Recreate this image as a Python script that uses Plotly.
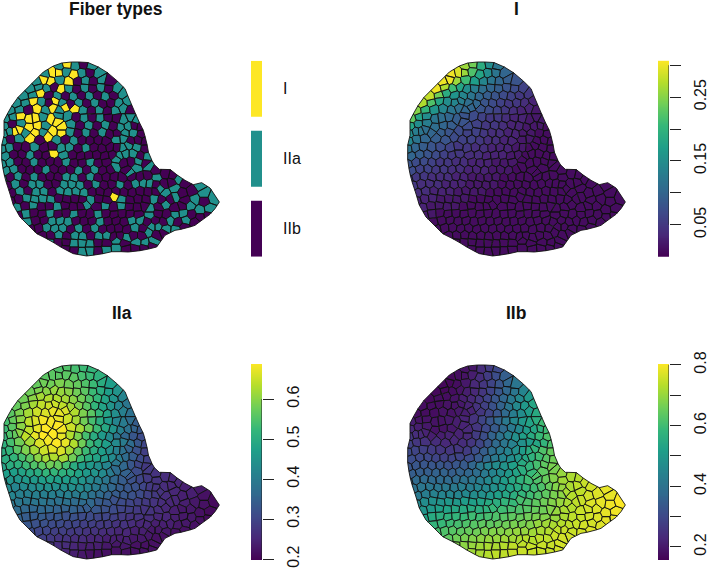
"""
Fiber type map and deconvolution shares on a muscle section (Voronoi cells).
"""

import numpy as np
import plotly.graph_objects as go
from plotly.colors import sample_colorscale

# Tissue outline and cell seeds, in a 3x pixel grid of one panel
outline_x = [185, 215, 260, 290, 320, 350, 375, 385, 400, 415, 430, 440, 445, 460, 478, 510, 530, 555, 580, 605,
             630, 645, 658, 645, 630, 605, 585, 555, 525, 495, 470, 430, 385, 340, 300, 260, 220, 190, 150, 110,
             85, 60, 40, 30, 15, 5, 5, 12, 12, 30, 50, 70, 100, 130, 160]
outline_y = [33, 30, 30, 42, 60, 85, 110, 135, 170, 205, 235, 270, 300, 335, 352, 352, 368, 385, 398, 392,
             408, 430, 450, 470, 487, 505, 520, 530, 535, 550, 585, 595, 600, 598, 607, 612, 605, 590, 565, 545,
             520, 495, 460, 425, 380, 330, 280, 250, 205, 170, 140, 120, 90, 60, 42]

row_x = [
    [178, 200, 226, 250, 274],
    [136, 158, 175, 198, 222, 246, 270, 294],
    [112, 132, 152, 178, 208, 232, 256, 280, 304, 328],
    [92, 116, 140, 162, 182, 206, 230, 254, 278, 302, 326, 350],
    [72, 98, 122, 146, 172, 196, 220, 244, 268, 292, 316, 340, 368],
    [50, 76, 100, 124, 148, 165, 188, 212, 236, 260, 284, 308, 332, 356, 382],
    [32, 58, 84, 112, 136, 158, 178, 195, 225, 250, 274, 298, 322, 346, 368, 392],
    [18, 38, 60, 90, 105, 130, 153, 176, 204, 228, 252, 276, 300, 324, 350, 370, 392, 410],
    [14, 36, 62, 88, 112, 136, 172, 185, 214, 240, 266, 292, 316, 340, 362, 384, 404, 420],
    [10, 30, 45, 57, 78, 105, 130, 158, 185, 210, 234, 258, 282, 306, 330, 350, 375, 400, 424],
    [8, 32, 55, 92, 118, 145, 170, 196, 222, 246, 270, 294, 318, 350, 370, 392, 415, 435],
    [6, 28, 52, 76, 104, 132, 158, 184, 208, 234, 258, 282, 306, 330, 350, 368, 387, 410, 436],
    [16, 42, 66, 90, 114, 138, 158, 192, 218, 242, 266, 290, 314, 338, 358, 375, 400, 422, 440],
    [6, 30, 54, 78, 102, 126, 150, 174, 198, 222, 246, 270, 294, 318, 350, 372, 393, 415, 438],
    [18, 42, 66, 90, 114, 138, 162, 188, 212, 236, 260, 284, 308, 332, 346, 380, 390, 410, 445, 468],
    [8, 30, 54, 78, 102, 126, 150, 174, 198, 222, 246, 270, 294, 318, 342, 366, 396, 420, 442, 470, 495, 520],
    [22, 46, 72, 96, 120, 144, 168, 192, 216, 240, 264, 288, 312, 336, 360, 384, 406, 430, 448, 468, 492, 515, 535, 555],
    [34, 60, 84, 108, 132, 156, 180, 204, 228, 252, 276, 300, 324, 348, 372, 396, 420, 444, 466, 480, 497, 523, 547, 575, 598, 612],
    [32, 56, 80, 104, 128, 152, 176, 200, 224, 248, 272, 296, 320, 342, 366, 390, 414, 438, 462, 486, 510, 525, 555, 585, 612, 640],
    [50, 76, 100, 124, 148, 172, 196, 220, 244, 256, 292, 316, 340, 364, 388, 412, 434, 450, 476, 495, 525, 548, 570, 600, 628],
    [54, 78, 102, 126, 150, 174, 198, 222, 246, 270, 294, 318, 342, 366, 390, 414, 450, 474, 500, 525, 550, 575, 600, 625],
    [82, 108, 132, 156, 180, 204, 228, 252, 276, 300, 324, 348, 372, 395, 420, 442, 466, 490, 510, 534, 557, 585],
    [92, 116, 140, 164, 188, 212, 236, 260, 284, 308, 332, 356, 380, 404, 430, 455, 475, 495, 530, 552],
    [128, 152, 176, 200, 224, 248, 272, 296, 320, 342, 358, 380, 400, 425, 445, 470, 490],
    [150, 174, 198, 222, 246, 270, 294, 318, 350, 374, 410, 435, 460],
    [196, 222, 246, 270, 294, 318, 350, 378, 406, 432, 456],
]
row_y = [
    [44, 37, 40, 36, 42],
    [66, 61, 61, 58, 69, 64, 62, 66],
    [90, 82, 89, 84, 89, 88, 86, 88, 84, 90],
    [112, 106, 110, 104, 112, 110, 112, 108, 110, 106, 110, 112],
    [134, 130, 122, 130, 132, 132, 134, 130, 132, 130, 134, 130, 126],
    [154, 152, 146, 150, 152, 146, 152, 156, 152, 154, 152, 156, 152, 154, 146],
    [178, 174, 172, 169, 174, 166, 176, 164, 169, 174, 176, 174, 178, 176, 167, 176],
    [200, 194, 192, 201, 199, 194, 202, 190, 192, 196, 198, 196, 198, 196, 198, 204, 194, 204],
    [222, 216, 214, 227, 222, 222, 209, 226, 216, 220, 220, 222, 218, 224, 227, 224, 222, 224],
    [244, 238, 237, 232, 242, 241, 240, 239, 242, 240, 244, 242, 244, 240, 246, 244, 242, 242, 246],
    [268, 262, 260, 256, 264, 252, 264, 262, 266, 264, 266, 264, 268, 261, 259, 268, 264, 268],
    [290, 286, 284, 288, 286, 288, 284, 288, 286, 290, 288, 286, 290, 286, 288, 289, 279, 286, 290],
    [314, 308, 306, 310, 308, 310, 304, 310, 308, 312, 310, 308, 312, 308, 310, 304, 304, 312, 314],
    [336, 330, 328, 332, 330, 332, 328, 332, 330, 334, 332, 330, 334, 330, 321, 334, 330, 329, 334],
    [358, 352, 350, 354, 352, 354, 350, 354, 352, 356, 354, 352, 356, 352, 344, 354, 364, 346, 342, 356],
    [380, 374, 372, 376, 374, 376, 372, 376, 374, 378, 376, 374, 378, 374, 376, 378, 374, 376, 372, 376, 364, 370],
    [402, 396, 394, 398, 396, 398, 394, 398, 396, 400, 398, 396, 400, 396, 398, 400, 394, 392, 394, 398, 396, 392, 381, 392],
    [424, 418, 416, 420, 418, 420, 416, 420, 418, 422, 420, 418, 422, 418, 420, 422, 418, 420, 418, 409, 424, 409, 424, 416, 400, 426],
    [446, 440, 438, 442, 440, 442, 438, 442, 440, 444, 442, 440, 444, 431, 442, 444, 440, 442, 440, 444, 440, 434, 446, 442, 446, 437],
    [468, 462, 460, 464, 462, 464, 460, 464, 462, 457, 464, 462, 466, 462, 464, 466, 462, 471, 466, 456, 470, 462, 461, 476, 472],
    [490, 484, 482, 486, 484, 486, 482, 486, 484, 488, 486, 484, 488, 484, 486, 488, 489, 484, 488, 487, 484, 488, 494, 490],
    [512, 506, 504, 508, 506, 510, 506, 508, 506, 510, 508, 506, 510, 504, 504, 510, 506, 510, 504, 510, 504, 510],
    [532, 528, 526, 530, 528, 532, 528, 530, 528, 532, 530, 528, 532, 528, 530, 524, 524, 531, 534, 526],
    [552, 550, 548, 552, 550, 554, 550, 552, 550, 554, 552, 557, 550, 550, 539, 548, 540],
    [572, 572, 570, 574, 572, 576, 572, 574, 564, 574, 572, 574, 569],
    [592, 596, 600, 594, 596, 592, 589, 590, 588, 586, 580],
]

# I = type I, a = IIa, b = IIb
row_type = [
    "aIaba",
    "aIIaIaba",
    "aIIaIbabab",
    "aaabIabababa",
    "aaIbababababa",
    "aaIabIabababbaa",
    "aabIaIaIIababaab",
    "aaIIIaIaabababbaaa",
    "abaIIaIIabababaabb",
    "aaIIaIaIIabababbaab",
    "abaIbIababbbbaabbb",
    "aabbabbaababbbbaaab",
    "abbabbIabbbbbbaaaba",
    "aabbabbbabbabbabbab",
    "aabbbabbbabbabbabaaab",
    "abababbbaa" "babbbbbbba" "bb",
    "babaabbaaa" "babbabaaab" "bbab",
    "babaabaaaa" "bbbbbbbbba" "aabbaa",
    "bbaaaabbbb" "abbIabbbab" "bababa",
    "ababbabbba" "bababbbaba" "bbaaa",
    "babbabbabb" "abbbbbabba" "abbb",
    "abbaaabbba" "bbbaabbbab" "ab",
    "bbaaababab" "bbbabaaaab",
    "bbabaabaab" "babbabb",
    "abbaaabbabaaa",
    "bbaabaabbbb",
]
row_type[14] = "aabbbabbba" "babbabaaab"

# Shares in percent
row_i = [
    [26, 24, 19, 15, 12],
    [30, 29, 26, 22, 18, 15, 12, 10],
    [30, 30, 26, 21, 17, 14, 12, 10, 9, 8],
    [30, 27, 21, 18, 15, 13, 11, 10, 9, 8, 7, 6],
    [28, 24, 19, 16, 14, 12, 10, 9, 8, 7, 6, 5, 5],
    [27, 22, 18, 15, 14, 13, 11, 10, 8, 7, 6, 5, 5, 4, 3],
    [25, 20, 16, 14, 12, 11, 10, 10, 8, 7, 6, 5, 4, 3, 3, 2],
    [23, 18, 15, 12, 11, 10, 9, 8, 7, 6, 5, 5, 4, 3, 3, 2, 2, 2],
    [18, 15, 13, 11, 10, 9, 8, 7, 6, 5, 5, 4, 3, 3, 2, 2, 2, 1],
    [15, 13, 12, 11, 10, 9, 8, 7, 6, 6, 5, 4, 4, 3, 3, 2, 2, 1, 1],
    [14, 12, 10, 9, 8, 7, 6, 6, 5, 4, 4, 3, 3, 2, 2, 1, 1, 1],
    [12, 10, 9, 8, 7, 6, 5, 5, 4, 4, 3, 3, 3, 2, 2, 1, 1, 1, 1],
    [10, 9, 8, 7, 6, 5, 5, 4, 4, 3, 3, 3, 2, 2, 1, 1, 1, 1, 1],
    [8, 7, 7, 6, 5, 5, 4, 4, 3, 3, 3, 2, 2, 2, 1, 1, 1, 1, 1],
    [7, 6, 6, 5, 5, 4, 4, 3, 3, 3, 2, 2, 2, 1, 1, 1, 1, 1, 1, 1],
    [6, 5, 5, 4, 4, 4, 3, 3, 2, 2, 2, 2, 1, 1, 1, 1, 1, 1, 1, 1, 1, 1],
    [5, 4, 4, 4, 3, 3, 3, 2, 2, 2, 2, 1, 1, 1, 1, 1, 1, 1, 1, 1, 1, 1, 1, 1],
    [4, 4, 3, 3, 3, 2, 2, 2, 2, 1, 1, 1, 1, 1, 1, 1, 1, 1, 1, 1, 1, 1, 1, 1, 1, 1],
    [3, 3, 3, 2, 2, 2, 2, 1, 1, 1, 1, 1, 1, 1, 1, 1, 1, 1, 1, 1, 1, 1, 1, 1, 1, 1],
    [3, 2, 2, 2, 2, 1, 1, 1, 1, 1, 1, 1, 1, 1, 1, 1, 1, 1, 1, 1, 1, 1, 1, 1, 1],
    [2, 2, 1, 1, 1, 1, 1, 1, 1, 1, 1, 1, 1, 1, 1, 1, 1, 1, 1, 1, 1, 1, 1, 1],
    [1, 1, 1, 1, 1, 1, 1, 1, 1, 1, 1, 1, 1, 1, 1, 1, 1, 1, 1, 1, 1, 1],
    [1, 1, 1, 1, 1, 1, 1, 1, 1, 1, 1, 1, 1, 1, 1, 1, 1, 1, 1, 1],
    [1, 1, 1, 1, 1, 1, 1, 1, 1, 1, 1, 1, 1, 1, 1, 1, 1],
    [1, 1, 1, 1, 1, 1, 1, 1, 1, 1, 1, 1, 1],
    [1, 1, 1, 1, 1, 1, 1, 1, 1, 1, 1],
]
row_iia = [
    [55, 55, 54, 53, 52],
    [56, 56, 56, 56, 56, 54, 53, 51],
    [57, 58, 58, 59, 58, 57, 55, 53, 50, 47],
    [58, 59, 60, 61, 61, 60, 58, 56, 53, 50, 47, 45],
    [58, 60, 62, 63, 63, 62, 60, 58, 55, 52, 48, 45, 42],
    [57, 59, 62, 64, 65, 65, 64, 62, 59, 56, 52, 48, 45, 42, 39],
    [56, 59, 62, 65, 66, 67, 67, 66, 63, 59, 56, 52, 48, 44, 41, 38],
    [54, 57, 60, 64, 66, 68, 68, 67, 65, 62, 58, 54, 50, 46, 42, 40, 37, 34],
    [53, 56, 60, 64, 67, 69, 69, 68, 65, 62, 58, 53, 49, 45, 41, 38, 35, 33],
    [52, 55, 57, 60, 64, 67, 69, 69, 67, 63, 59, 54, 50, 46, 43, 39, 36, 33, 31],
    [51, 54, 58, 62, 66, 68, 69, 67, 63, 58, 53, 50, 47, 43, 40, 37, 33, 30],
    [50, 52, 56, 59, 62, 65, 67, 66, 62, 57, 53, 50, 47, 44, 41, 38, 35, 32, 29],
    [50, 52, 54, 56, 60, 62, 63, 62, 58, 53, 50, 48, 46, 43, 40, 37, 34, 31, 29],
    [48, 50, 51, 53, 55, 56, 58, 57, 54, 50, 47, 46, 44, 42, 39, 36, 33, 30, 28],
    [47, 47, 48, 49, 50, 52, 52, 51, 50, 48, 46, 45, 43, 40, 37, 35, 33, 31, 28, 27],
    [45, 45, 45, 46, 46, 47, 48, 47, 47, 46, 45, 43, 41, 39, 36, 34, 32, 30, 28, 27, 26, 25],
    [43, 42, 43, 43, 44, 44, 44, 44, 44, 43, 42, 40, 38, 36, 34, 33, 32, 30, 28, 27, 26, 25, 25, 24],
    [42, 41, 41, 41, 41, 41, 41, 41, 40, 40, 38, 37, 35, 34, 33, 32, 31, 29, 28, 27, 26, 25, 24, 24, 23, 22],
    [39, 39, 39, 39, 39, 38, 38, 38, 37, 37, 36, 34, 33, 32, 31, 30, 29, 28, 27, 26, 25, 25, 24, 23, 22, 21],
    [37, 36, 36, 36, 36, 35, 35, 35, 34, 34, 33, 32, 31, 30, 29, 28, 27, 27, 26, 25, 24, 23, 23, 22, 21],
    [35, 34, 34, 34, 33, 33, 32, 32, 31, 31, 30, 30, 29, 28, 27, 27, 26, 25, 25, 24, 23, 23, 22, 21],
    [33, 32, 32, 31, 31, 30, 30, 29, 29, 28, 28, 27, 27, 26, 25, 25, 24, 24, 24, 23, 23, 22],
    [31, 30, 30, 29, 29, 28, 28, 27, 27, 26, 26, 25, 25, 24, 24, 23, 23, 23, 22, 22],
    [29, 28, 27, 27, 26, 26, 25, 25, 24, 24, 24, 24, 23, 23, 23, 22, 22],
    [27, 26, 26, 25, 24, 24, 24, 23, 23, 23, 22, 22, 22],
    [25, 24, 23, 22, 22, 22, 22, 22, 22, 22, 22],
]
row_iib = [
    [19, 20, 24, 27, 30],
    [17, 18, 19, 21, 24, 27, 31, 35],
    [17, 17, 18, 20, 23, 26, 29, 33, 37, 41],
    [17, 17, 18, 19, 21, 23, 26, 29, 33, 37, 41, 45],
    [17, 18, 18, 19, 21, 23, 26, 29, 33, 37, 42, 46, 50],
    [18, 18, 18, 19, 19, 20, 22, 25, 28, 32, 36, 41, 46, 50, 54],
    [18, 18, 18, 19, 19, 20, 21, 22, 26, 29, 33, 38, 43, 47, 51, 55],
    [21, 19, 19, 19, 19, 20, 21, 22, 25, 29, 33, 37, 42, 46, 50, 53, 56, 60],
    [23, 21, 20, 19, 19, 20, 22, 23, 26, 30, 34, 38, 42, 46, 51, 54, 57, 60],
    [26, 24, 23, 22, 21, 21, 22, 22, 23, 27, 31, 36, 40, 44, 48, 52, 55, 59, 62],
    [28, 26, 25, 24, 23, 23, 24, 26, 29, 33, 38, 41, 44, 48, 51, 54, 58, 62],
    [30, 29, 28, 27, 26, 26, 26, 27, 31, 35, 39, 42, 45, 48, 51, 55, 58, 62, 65],
    [31, 30, 30, 29, 28, 29, 29, 31, 34, 38, 42, 45, 47, 50, 54, 57, 60, 63, 66],
    [33, 33, 33, 33, 33, 32, 33, 34, 37, 41, 45, 47, 49, 52, 55, 58, 61, 64, 67],
    [35, 35, 35, 36, 36, 35, 36, 37, 39, 42, 45, 47, 50, 53, 56, 59, 62, 64, 67, 70],
    [37, 38, 38, 38, 38, 38, 38, 40, 41, 43, 46, 48, 51, 54, 57, 60, 62, 65, 68, 71, 72, 73],
    [40, 41, 41, 41, 42, 42, 43, 43, 45, 46, 48, 50, 53, 55, 58, 60, 62, 65, 68, 70, 72, 74, 75, 76],
    [42, 43, 44, 45, 45, 45, 46, 47, 48, 50, 52, 54, 56, 58, 60, 62, 64, 67, 69, 72, 73, 74, 76, 77, 78, 78],
    [46, 47, 48, 49, 50, 50, 51, 52, 53, 55, 56, 58, 59, 61, 62, 64, 66, 68, 70, 72, 74, 75, 77, 78, 79, 80],
    [49, 50, 52, 53, 54, 55, 55, 56, 57, 59, 60, 61, 62, 63, 65, 66, 68, 70, 72, 73, 75, 76, 77, 78, 79],
    [53, 55, 56, 57, 58, 59, 60, 60, 61, 62, 63, 64, 65, 66, 67, 68, 70, 72, 74, 75, 76, 77, 78, 78],
    [58, 59, 60, 61, 62, 63, 64, 64, 65, 66, 67, 67, 68, 70, 71, 72, 73, 74, 75, 76, 76, 77],
    [61, 62, 63, 64, 65, 66, 67, 68, 68, 69, 70, 70, 71, 72, 73, 74, 75, 75, 76, 77],
    [64, 66, 67, 68, 69, 70, 70, 71, 71, 72, 73, 73, 74, 74, 75, 76, 76],
    [68, 69, 70, 71, 72, 72, 73, 74, 74, 75, 75, 75, 76],
    [71, 72, 73, 74, 74, 75, 75, 75, 75, 75, 76],
]

type_labels = ["IIb", "IIa", "I"]
type_colors = ["#440154", "#21908C", "#FDE725"]

WIDTH, HEIGHT = 708, 571

# catches a row typed with the wrong count
for k, row in enumerate(row_x):
    for column in (row_y, row_type, row_i, row_iia, row_iib):
        assert len(column[k]) == len(row), (k, len(column[k]), len(row))

cell_x = [v for row in row_x for v in row]
cell_y = [v for row in row_y for v in row]
cell_type = [v for row in row_type for v in row]
share_i = [v for row in row_i for v in row]
share_iia = [v for row in row_iia for v in row]
share_iib = [v for row in row_iib for v in row]


def clip_cell(index):
    """Clip the outline by the bisector against every nearby seed."""
    poly = list(zip(outline_x, outline_y))
    sx, sy = cell_x[index], cell_y[index]
    for j, (ox, oy) in enumerate(zip(cell_x, cell_y)):
        if j == index or abs(ox - sx) > 90 or abs(oy - sy) > 90:
            continue
        nx, ny = ox - sx, oy - sy
        limit = nx * (ox + sx) / 2 + ny * (oy + sy) / 2
        kept = []
        for k, p in enumerate(poly):
            q = poly[(k + 1) % len(poly)]
            dp = nx * p[0] + ny * p[1] - limit
            dq = nx * q[0] + ny * q[1] - limit
            if dp <= 0:
                kept.append(p)
            if dp * dq < 0:
                t = dp / (dp - dq)
                kept.append((p[0] + t * (q[0] - p[0]), p[1] + t * (q[1] - p[1])))
        poly = kept
        if not poly:
            break
    return poly


cells = [clip_cell(i) for i in range(len(cell_x))]


def px_x(value):
    return value / WIDTH


def px_y(value):
    return 1 - value / HEIGHT


fig = go.Figure()
layout = {}
axis_count = 0


def new_axes(x0, x1, y0, y1):
    """Create an axis pair covering a pixel box of the page."""
    global axis_count
    axis_count += 1
    n = axis_count
    layout[f"xaxis{n}"] = dict(domain=[px_x(x0), px_x(x1)], anchor=f"y{n}", visible=False)
    layout[f"yaxis{n}"] = dict(domain=[px_y(y1), px_y(y0)], anchor=f"x{n}", visible=False)
    return n


def draw_cells(n, groups):
    """One filled trace per colour; groups maps colour to cell indices."""
    for color, members in groups.items():
        xs, ys = [], []
        for i in members:
            if not cells[i]:
                continue
            xs += [p[0] for p in cells[i]] + [cells[i][0][0], None]
            ys += [p[1] for p in cells[i]] + [cells[i][0][1], None]
        fig.add_trace(go.Scatter(
            x=xs, y=ys, mode="lines", fill="toself", fillcolor=color,
            line=dict(color="#111111", width=0.9),
            hoverinfo="skip", xaxis=f"x{n}", yaxis=f"y{n}",
        ))


def tissue_axes(off_x, off_y):
    n = new_axes(off_x, off_x + 235, off_y, off_y + 210)
    layout[f"xaxis{n}"]["range"] = [0, 705]
    layout[f"yaxis{n}"]["range"] = [630, 0]
    return n


def share_panel(off_x, off_y, shares, lo, hi, bar_x, bar_y, ticks, labels):
    n = tissue_axes(off_x, off_y)
    groups = {}
    for i, v in enumerate(shares):
        t = min(max((v / 100 - lo) / (hi - lo), 0), 1)
        groups.setdefault(sample_colorscale("Viridis", [t])[0], []).append(i)
    draw_cells(n, groups)

    # colour ramp with its tick axis on the right
    b = new_axes(bar_x, bar_x + 11, bar_y[0], bar_y[1])
    levels = np.linspace(lo, hi, 200)
    fig.add_trace(go.Heatmap(
        x=[0], y=levels, z=[[v] for v in levels], zmin=lo, zmax=hi,
        colorscale="Viridis", showscale=False, hoverinfo="skip",
        xaxis=f"x{b}", yaxis=f"y{b}",
    ))
    fig.add_trace(go.Scatter(
        x=[0.5, 0.5], y=[ticks[0], ticks[-1]], mode="lines",
        line=dict(color="#222222", width=1), cliponaxis=False, hoverinfo="skip",
        xaxis=f"x{b}", yaxis=f"y{b}",
    ))
    layout[f"xaxis{b}"]["range"] = [-0.5, 0.5]
    layout[f"yaxis{b}"].update(
        visible=True, range=[lo, hi], side="right", showgrid=False, zeroline=False,
        showline=False, ticks="outside", ticklen=11, tickwidth=1, tickcolor="#222222",
        tickvals=ticks, ticktext=labels, tickangle=-90, ticklabelstandoff=6,
        tickfont=dict(family="Liberation Sans", size=16, color="#111111"),
    )


# Fiber types panel
n = tissue_axes(0, 52)
groups = {}
for i, kind in enumerate(cell_type):
    groups.setdefault({"I": type_colors[2], "a": type_colors[1], "b": type_colors[0]}[kind], []).append(i)
draw_cells(n, groups)

b = new_axes(251, 262, 60.7, 256.7)
fig.add_trace(go.Bar(
    x=[1, 1, 1], y=type_labels, orientation="h", width=0.8, marker_color=type_colors,
    marker_line_width=0, hoverinfo="skip", xaxis=f"x{b}", yaxis=f"y{b}",
))
layout[f"xaxis{b}"]["range"] = [0, 1]
layout[f"yaxis{b}"].update(
    visible=True, type="category", range=[-0.4, 2.4], side="right", showgrid=False,
    zeroline=False, showline=False, ticks="", ticklabelstandoff=20,
    tickfont=dict(family="Liberation Sans", size=16, color="#111111"),
)

share_panel(406, 52, share_i, 0.0, 0.307, 658, (60.7, 256.7),
            [0.05, 0.10, 0.15, 0.20, 0.25, 0.30], ["0.05", "", "0.15", "", "0.25", ""])
share_panel(0, 355, share_iia, 0.1975, 0.6875, 251, (364, 560),
            [0.2, 0.3, 0.4, 0.5, 0.6], ["0.2", "0.3", "0.4", "0.5", "0.6"])
share_panel(406, 355, share_iib, 0.157, 0.803, 658, (364, 560),
            [0.2, 0.3, 0.4, 0.5, 0.6, 0.7, 0.8], ["0.2", "", "0.4", "", "0.6", "", "0.8"])

panel_titles = ["Fiber types", "I", "IIa", "IIb"]
title_x = [116, 516, 122, 516]
title_y = [9, 9, 313, 313]
annotations = [
    dict(text=f"<b>{t}</b>", x=px_x(x), y=px_y(y), xref="paper", yref="paper",
         xanchor="center", yanchor="middle", showarrow=False,
         font=dict(family="Liberation Sans", size=17.5, color="#111111"))
    for t, x, y in zip(panel_titles, title_x, title_y)
]

fig.update_layout(
    width=WIDTH, height=HEIGHT, margin=dict(l=0, r=0, t=0, b=0, autoexpand=False),
    paper_bgcolor="white", plot_bgcolor="white", showlegend=False,
    annotations=annotations, **layout,
)

fig.write_html("out.html", config={"displayModeBar": False},
               post_script="document.body.style.margin = '0';")
